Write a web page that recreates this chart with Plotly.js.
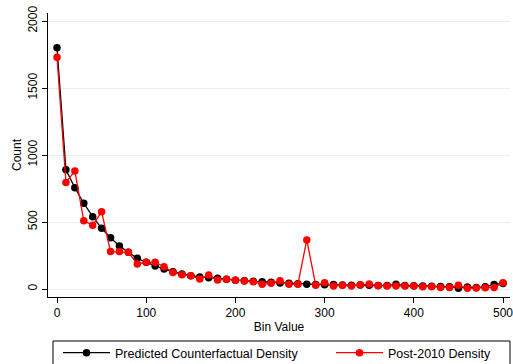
<!DOCTYPE html>
<html>
<head>
<meta charset="utf-8">
<script src="https://cdn.plot.ly/plotly-3.0.1.min.js"></script>
<style>html,body{margin:0;padding:0;background:#fff;}#chart{width:513px;height:364px;}</style>
</head>
<body>
<div id="chart"></div>
<script>
const binValues = [0,10,20,30,40,50,60,70,80,90,100,110,120,130,140,150,160,170,180,190,200,210,220,230,240,250,260,270,280,290,300,310,320,330,340,350,360,370,380,390,400,410,420,430,440,450,460,470,480,490,500];
const predictedCounterfactual = [1800,890,756,640,540,453,383,321,274,229,199,172,149,129,112,99,90,84,80,72,66,61,57,54,50,45,43,40,35,34,31,33,30,28,29,28,26,26,35,27,25,23,21,19,17,6,14,12,16,33,41];
const post2010 = [1730,795,880,510,475,577,279,279,274,187,199,199,166,124,107,99,75,104,67,72,66,60,55,35,42,62,35,35,366,28,47,22,28,22,32,37,25,22,22,22,22,17,17,12,12,28,5,7,10,12,47];
const seriesNames = ["Predicted Counterfactual Density", "Post-2010 Density"];
const yTicks = [0,500,1000,1500,2000];
const xTicks = [0,100,200,300,400,500];

const fam = "Liberation Sans, Arial, sans-serif";
const font = {family: fam, size: 12, color: "#000"};

const traces = [
  {x: binValues, y: predictedCounterfactual, name: seriesNames[0], type: "scatter", mode: "lines+markers", legend: "legend",
   line: {color: "#000000", width: 1.3}, marker: {color: "#000000", size: 7.5}},
  {x: binValues, y: post2010, name: seriesNames[1], type: "scatter", mode: "lines+markers", legend: "legend2",
   line: {color: "#ff0000", width: 1.3}, marker: {color: "#ff0000", size: 7.5}}
];

const legendCommon = {orientation: "h", xref: "container", yref: "container", xanchor: "left", yanchor: "middle",
  y: 0.03, borderwidth: 0, bgcolor: "rgba(0,0,0,0)", font: {family: fam, size: 12.5, color: "#000"}, itemwidth: 47};

const layout = {
  width: 513, height: 364,
  margin: {l: 48, r: 3, t: 13, b: 67},
  paper_bgcolor: "#ffffff", plot_bgcolor: "#ffffff",
  font: font,
  showlegend: true,
  legend: Object.assign({}, legendCommon, {x: 58 / 513}),
  legend2: Object.assign({}, legendCommon, {x: 331 / 513}),
  shapes: [
    {type: "rect", xref: "paper", yref: "paper", x0: (53 - 48) / 462, x1: (510 - 48) / 462,
     y0: -(366 - 297) / 284, y1: -(341 - 297) / 284, line: {color: "#000", width: 1}, fillcolor: "rgba(0,0,0,0)", layer: "above"}
  ],
  xaxis: {range: [-10.1, 507.8], tickvals: xTicks, ticktext: xTicks.map(String), showgrid: false, zeroline: false,
          showline: true, linecolor: "#000", linewidth: 1, ticks: "outside", ticklen: 5, tickcolor: "#000",
          ticklabeloverflow: "allow", automargin: false,
          tickfont: {family: fam, size: 12, color: "#000"},
          title: {text: "Bin Value", font: {family: fam, size: 12, color: "#000"}, standoff: 3}},
  yaxis: {range: [-59.7, 2059.7], tickvals: yTicks, ticktext: yTicks.map(String), showgrid: true, gridcolor: "#e8f0f2", gridwidth: 1,
          zeroline: false, showline: true, linecolor: "#000", linewidth: 1, ticks: "outside", ticklen: 5, tickcolor: "#000",
          tickangle: -90, automargin: false, tickfont: {family: fam, size: 12, color: "#000"},
          title: {text: "Count", font: {family: fam, size: 12, color: "#000"}, standoff: 2}}
};

Plotly.newPlot("chart", traces, layout, {displayModeBar: false, staticPlot: true});
</script>
</body>
</html>
